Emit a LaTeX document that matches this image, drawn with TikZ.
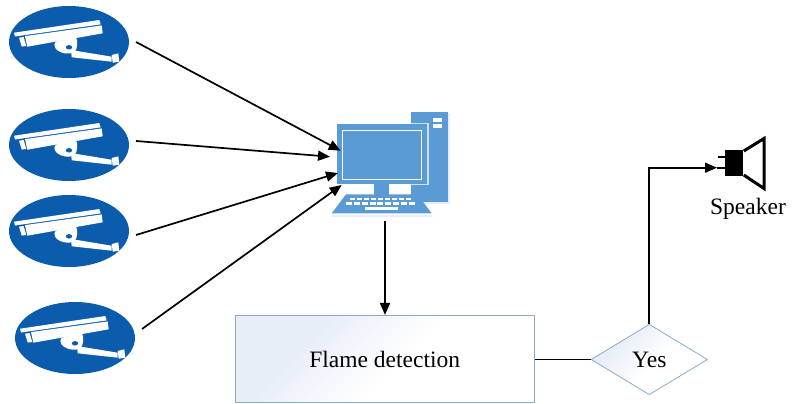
\documentclass[tikz,border=0pt]{standalone}
\usepackage{fontspec}
\setmainfont{Liberation Serif}
\usetikzlibrary{shapes.geometric,arrows.meta}
\definecolor{camblue}{HTML}{0B5CAD}
\definecolor{pcblue}{HTML}{5B9BD5}
\definecolor{pcshadow}{HTML}{E8EFF6}
\definecolor{boxline}{HTML}{8FAAC6}
\definecolor{boxfill}{HTML}{E8EEF8}
\pgfdeclareverticalshading{softfade}{100bp}{color(0bp)=(boxfill);color(32bp)=(boxfill);color(54bp)=(white);color(100bp)=(white)}
\tikzset{
  camera/.style={ellipse,minimum width=120pt,minimum height=72pt,inner sep=0pt,fill=camblue},
  flow/.style={-{Triangle[length=12pt,width=10pt]},line width=1.7pt,black},
  plainflow/.style={line width=1.7pt,black},
  procbox/.style={rectangle,draw=boxline,line width=1.1pt,shading=softfade,shading angle=-135,minimum width=299pt,minimum height=87pt,inner sep=0pt},
  decide/.style={diamond,draw=boxline,line width=.8pt,shading=softfade,shading angle=-135,minimum width=116.5pt,minimum height=70.5pt,inner sep=0pt,aspect=1.65},
  txtlabel/.style={font=\fontsize{23.5}{26}\selectfont,text=black},
  pcpart/.style={fill=pcblue,draw=none},
  camicon/.pic={
    \fill[white] (-55,-9.3)--(30.3,-22)--(31.7,-17.6)--(-54,-5.5)--cycle;
    \fill[white] (-44,-5.9)--(32.7,-16.6)--(33.7,-8.7)--(-41.7,4.7)--cycle;
    \fill[white] (-50,-4.3)--(-45.4,-5)--(-42.7,4)--(-47.3,4.6)--cycle;
    \fill[white,rounded corners=3pt] (-15,0)--(8,-5)--(8,7)--(4,11.5)--(-6,11.5)--(-14,7)--cycle;
    \fill[white] (2,8)--(42.7,14.7)--(42.7,19.7)--(2.7,15.3)--cycle;
    \fill[white] (42.7,13)--(49.3,11.3)--(50.3,19.7)--(43.7,20.7)--cycle;
    \fill[camblue] (0,5.3) ellipse (3.2 and 2.2);
  }
}
\begin{document}
\begin{tikzpicture}[x=1pt,y=-1pt]
\useasboundingbox[fill=white] (0,0) rectangle (798,404);
% cameras
\node[camera] (cam1) at (69,42) {};
\node[camera] (cam2) at (69,145) {};
\node[camera] (cam3) at (69,231) {};
\node[camera] (cam4) at (75,338) {};
\pic at (69,42) {camicon};
\pic at (69,145) {camicon};
\pic at (69,231) {camicon};
\pic at (75,338) {camicon};
% computer
\fill[pcshadow] (412,113) rectangle (450,203.5);
\fill[pcshadow] (331.5,214.5) rectangle (433,216.5);
\fill[pcpart] (410.7,111.7) rectangle (448.3,201.7);
\fill[white] (433.3,118.3) rectangle (441.7,121.7);
\fill[white] (433.3,124) rectangle (441.7,127.7);
\fill[pcpart] (374,184) rectangle (389.3,195);
\fill[pcblue!30] (410.7,122.6) rectangle (428.7,124);
\fill[pcblue!30] (427.3,122.6) rectangle (428.7,185.4);
\fill[pcblue!30] (410.7,184) rectangle (428.7,185.4);
\node[rectangle,pcpart,minimum width=90.6pt,minimum height=60pt,inner sep=0pt] (pc) at (382,154) {};
\draw[white,line width=.9pt] (342.3,130.7) rectangle (421.7,179.3);
\fill[pcpart] (346,194.3)--(417.3,194.3)--(431.7,213.3)--(331.7,213.3)--cycle;
\foreach \k in {0,...,8}{
  \fill[white] ({350+\k*6.95},197.5) rectangle ++(5.2,2.5);
  \fill[white] ({346+\k*7.85},202) rectangle ++(6,2.6);
}
\fill[white] (365,206.8) rectangle (398,210);
% flow
\node[procbox,txtlabel] (flame) at (384.7,359) {Flame detection};
\node[decide,txtlabel] (yes) at (649.3,359.5) {Yes};
\node[txtlabel] (spk) at (748,208.5) {Speaker};
% speaker icon
\fill[black] (725,150) rectangle (743.3,176);
\draw[black,line width=3pt,miter limit=10] (743.8,151)--(764,138.5)--(764,188.5)--(743.8,175);
\draw[black,line width=2pt] (718,157)--(725,157);
\draw[black,line width=2pt] (716.7,167.7)--(725,167.7);
% connector ends
\coordinate (s1) at (136,42);
\coordinate (s2) at (136,141);
\coordinate (s3) at (136,235);
\coordinate (s4) at (142,329);
\coordinate (t1) at (340.7,150.7);
\coordinate (t2) at (330,156.7);
\coordinate (t3) at (338,173);
\coordinate (t4) at (341.7,185);
\coordinate (pcb) at (385,221);
\coordinate (spkin) at (717,167.7);
\draw[flow] (s1)--(t1);
\draw[flow] (s2)--(t2);
\draw[flow] (s3)--(t3);
\draw[flow] (s4)--(t4);
\draw[flow] (pcb)--(pcb|-flame.north);
\draw[plainflow] (flame.east|-yes.west)--(yes.west);
\draw[flow] (yes.north)--(yes.north|-spkin)--(spkin);
\end{tikzpicture}
\end{document}
